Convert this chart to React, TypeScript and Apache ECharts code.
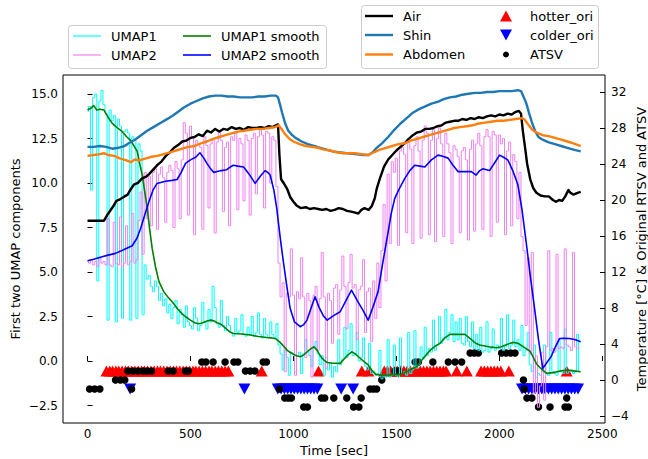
import React, { useEffect, useRef } from "react";
import * as echarts from "echarts";

// ---------------- data ----------------
// raw UMAP components, one sample every UMAP_STEP seconds starting at t = 0
const UMAP_STEP = 10;
const umap1Raw = [
  14.0, 14.3, 9.6, 14.8, 15.0, 4.5, 14.6, 15.2, 14.4, 13.9,
  2.3, 14.1, 13.5, 13.8, 2.2, 13.6, 13.2, 2.4, 12.9, 13.0,
  12.8, 2.3, 12.6, 12.4, 2.4, 12.2, 11.8, 2.6, 5.4, 4.6,
  4.8, 4.2, 3.9, 4.5, 4.2, 3.4, 3.8, 3.1, 3.5, 2.7,
  3.2, 2.4, 3.0, 3.4, 2.1, 2.9, 2.6, 1.9, 3.1, 2.2,
  2.0, 1.8, 3.0, 2.4, 1.7, 2.0, 3.3, 2.2, 1.8, 2.9,
  2.2, 4.2, 3.0, 2.1, 1.9, 3.4, 2.0, 1.7, 2.5, 2.0,
  1.6, 1.4, 2.4, 1.6, 1.7, 2.6, 1.5, 1.4, 1.9, 1.5,
  2.5, 1.4, 1.6, 2.7, 1.5, 1.3, 2.4, 1.5, 1.3, 2.2,
  1.5, 1.3, 2.1, 0.9, 0.4, -0.5, 0.6, 0.2, -0.8, 0.5,
  0.4, -0.6, 0.3, 0.5, -0.7, 0.4, 1.2, 0.6, 0.3, -0.3,
  0.7, 1.1, 0.4, -0.2, 0.3, -0.8, 0.2, -0.5, -0.1, -0.9,
  -0.3, -0.6, 1.2, -0.2, 0.1, 1.9, 0.2, 0.6, 2.1, 0.3,
  0.4, 1.6, 0.0, 0.2, 1.3, -0.3, -0.5, 1.0, -0.7, -0.6,
  -0.8, -0.7, 0.6, -1.0, -0.8, -0.9, 1.2, -0.9, -0.8, 0.9,
  -0.8, -0.9, 1.3, -0.7, -0.6, -0.8, 1.6, -0.7, -0.5, 1.7,
  -0.4, -0.2, 0.8, 0.1, 1.9, 0.3, 0.7, 0.5, 2.3, 0.6,
  0.9, 2.5, 1.0, 1.3, 2.9, 1.2, 1.6, 2.6, 1.1, 2.2,
  1.2, 2.4, 1.0, 0.9, 2.5, 1.1, 0.8, 2.2, 0.7, 1.5,
  0.6, 1.9, 0.5, 0.6, 2.2, 0.5, 0.7, 1.8, 0.6, 0.9,
  0.7, 2.4, 0.6, 0.8, 2.6, 0.7, 0.9, 2.3, 0.8, 1.2,
  0.6, 2.0, 0.3, 0.6, 1.6, -0.2, -0.6, 0.9, -0.9, -0.7,
  -0.8, -0.6, 0.9, -0.7, -0.8, 1.6, -0.6, -0.7, -0.8, 1.2,
  -0.6, -0.7, 1.8, -0.7, -0.6, -0.5, -0.7, -0.6, 1.5, -0.6,
];
const umap2Raw = [
  5.6, 5.5, 5.7, 5.4, 5.6, 5.3, 5.8, 5.5, 5.6, 5.4,
  8.0, 5.4, 5.3, 7.8, 5.5, 5.4, 8.1, 5.3, 5.5, 7.6,
  5.4, 5.6, 8.3, 5.5, 5.7, 7.9, 9.5, 6.0, 10.6, 8.0,
  10.4, 7.6, 10.6, 10.8, 7.4, 10.5, 10.9, 10.3, 7.8, 10.6,
  11.0, 10.7, 7.5, 11.2, 10.8, 8.0, 11.3, 13.4, 12.8, 8.2,
  13.2, 12.6, 7.1, 12.4, 12.2, 12.0, 7.4, 12.6, 12.1, 8.6,
  12.2, 12.5, 7.2, 12.3, 12.9, 12.4, 8.4, 12.0, 12.3, 7.6,
  12.6, 12.4, 12.8, 8.5, 12.5, 12.2, 9.0, 12.7, 12.4, 8.2,
  12.5, 12.8, 9.4, 12.6, 13.0, 12.7, 8.6, 12.9, 12.8, 10.0,
  12.6, 12.4, 9.8, 5.5, 3.6, 4.4, -0.6, 3.8, 3.6, 6.3,
  3.7, -0.8, 3.9, 3.5, 5.8, 3.6, 0.2, 3.8, 3.4, -0.9,
  3.7, 4.2, 0.6, 3.5, 6.1, 3.6, -0.4, 3.8, 3.4, 1.0,
  4.1, 4.3, 1.5, 4.0, 5.9, 4.2, 1.8, 4.4, 6.0, 4.1,
  4.3, 1.2, 4.0, 4.2, 5.7, 1.6, 3.9, 4.1, 1.1, 4.5,
  2.4, 5.5, 3.0, 6.2, 8.8, 4.5, 10.5, 6.6, 11.2, 10.6,
  11.4, 6.5, 11.8, 12.0, 11.6, 7.2, 12.3, 11.9, 6.6, 12.1,
  12.6, 11.8, 6.9, 12.4, 13.2, 12.8, 7.1, 12.4, 13.0, 6.7,
  12.5, 13.1, 12.2, 7.0, 12.8, 12.2, 11.7, 6.6, 12.1, 11.9,
  11.5, 7.2, 11.8, 12.0, 11.3, 6.8, 11.9, 12.4, 7.3, 12.2,
  12.8, 12.1, 7.4, 12.6, 13.0, 12.6, 7.0, 12.9, 12.7, 7.8,
  12.7, 12.2, 12.5, 7.1, 11.8, 12.3, 7.6, 11.6, 11.2, 8.0,
  10.6, 7.0, 6.2, 2.0, 5.8, 0.4, 6.1, -1.8, 0.3, -2.6,
  -1.4, 0.5, -2.2, 0.8, 6.2, 0.6, 0.7, 0.5, 6.0, 0.7,
  0.8, 0.7, 6.3, 0.9, 0.8, 0.6, 6.1, 0.8, 0.7, 0.8,
];

// smoothed UMAP components: [time s, value]
const umap1Smooth: [number, number][] = [
  [0, 14.1], [15, 14.2], [30, 14.35], [45, 14.1], [60, 14.15], [80, 14.1], [100, 13.7], [120, 13.35],
  [145, 13.1], [168, 12.9], [190, 12.6], [209, 12.4], [225, 12.1], [242, 11.76], [255, 11.0], [266, 10.45],
  [278, 9.5], [290, 8.58], [302, 7.4], [314, 6.33], [330, 5.3], [347, 4.46], [370, 3.9], [390, 3.6],
  [411, 3.33], [440, 2.9], [460, 2.65], [476, 2.49], [500, 2.3], [520, 2.15], [541, 2.1], [560, 2.15],
  [580, 2.25], [600, 2.3], [615, 2.25], [630, 2.15], [650, 2.05], [670, 1.85], [690, 1.65], [708, 1.55],
  [750, 1.52], [790, 1.46], [830, 1.38], [871, 1.32], [895, 1.3], [915, 1.25], [935, 1.05], [955, 0.8],
  [970, 0.6], [985, 0.48], [1000, 0.38], [1015, 0.3], [1033, 0.24], [1050, 0.35], [1070, 0.55], [1085, 0.7],
  [1100, 0.8], [1115, 0.6], [1130, 0.3], [1148, 0.05], [1164, -0.08], [1190, -0.12], [1227, -0.13],
  [1245, 0.1], [1265, 0.35], [1283, 0.52], [1300, 0.4], [1320, 0.2], [1340, 0.0], [1363, -0.22],
  [1380, -0.5], [1400, -0.75], [1430, -0.8], [1460, -0.78], [1490, -0.76], [1517, -0.75], [1550, -0.6],
  [1575, -0.45], [1600, -0.3], [1630, 0.15], [1665, 0.62], [1690, 0.85], [1712, 1.0], [1735, 1.3],
  [1760, 1.5], [1800, 1.5], [1833, 1.5], [1860, 1.25], [1885, 1.0], [1905, 0.9], [1930, 0.85],
  [1960, 0.78], [1987, 0.75], [2010, 0.8], [2040, 0.95], [2068, 1.05], [2090, 1.0], [2110, 0.85],
  [2130, 0.7], [2149, 0.55], [2165, 0.2], [2180, -0.15], [2200, -0.4], [2215, -0.55], [2230, -0.69],
  [2260, -0.65], [2280, -0.6], [2300, -0.55], [2329, -0.5], [2360, -0.55], [2395, -0.6],
];
const umap2Smooth: [number, number][] = [
  [0, 5.64], [30, 5.72], [71, 5.86], [100, 5.95], [136, 6.05], [175, 6.25], [217, 6.48], [240, 6.9],
  [258, 7.45], [278, 8.2], [298, 8.95], [318, 9.6], [338, 9.98], [360, 10.05], [379, 10.1], [410, 10.15],
  [435, 10.2], [455, 10.6], [476, 11.1], [500, 11.3], [525, 11.45], [546, 11.7], [565, 11.4], [580, 11.1],
  [595, 10.85], [612, 10.6], [630, 10.65], [650, 10.7], [676, 10.75], [693, 10.9], [708, 11.0], [730, 10.95],
  [758, 10.9], [785, 10.5], [814, 9.98], [840, 10.4], [863, 10.7], [875, 10.6], [887, 10.45], [905, 9.6],
  [919, 8.58], [935, 7.0], [951, 5.58], [968, 4.2], [984, 2.96], [1005, 2.2], [1033, 1.93], [1050, 2.05],
  [1066, 2.3], [1085, 2.95], [1105, 3.61], [1125, 3.0], [1145, 2.55], [1164, 2.3], [1195, 2.55],
  [1227, 2.77], [1255, 3.4], [1282, 3.99], [1310, 3.4], [1340, 2.8], [1363, 2.3], [1385, 3.0],
  [1411, 3.89], [1435, 5.6], [1460, 7.26], [1475, 8.3], [1492, 9.14], [1515, 9.7], [1541, 10.26],
  [1565, 10.7], [1589, 11.0], [1615, 10.95], [1638, 10.9], [1670, 11.3], [1702, 11.57], [1725, 11.5],
  [1751, 11.4], [1775, 11.0], [1800, 10.64], [1830, 10.64], [1864, 10.64], [1887, 10.45], [1905, 10.7],
  [1919, 10.8], [1952, 10.7], [1975, 11.1], [2001, 11.57], [2020, 11.45], [2041, 11.3], [2065, 10.7],
  [2090, 9.9], [2110, 8.5], [2130, 6.7], [2150, 4.8], [2171, 2.96], [2190, 1.2], [2211, -0.41],
  [2230, -0.1], [2251, 0.24], [2270, 0.75], [2293, 1.27], [2315, 1.28], [2340, 1.27], [2370, 1.2],
  [2395, 1.08],
];

// temperatures [time s, deg C]
const air: [number, number][] = [
  [0, 17.7], [40, 17.7], [80, 17.7], [95, 18.3], [110, 18.8], [125, 19.3], [140, 19.9], [160, 20.1],
  [180, 20.4], [195, 20.6], [210, 21.2], [225, 21.7], [245, 21.9], [265, 22.4], [285, 22.6], [300, 22.9],
  [320, 23.4], [340, 23.9], [360, 24.3], [380, 24.9], [400, 25.3], [420, 25.8], [440, 26.1], [460, 26.5],
  [480, 26.6], [500, 26.9], [520, 27.0], [540, 27.3], [560, 27.1], [580, 27.7], [600, 27.5], [620, 27.9],
  [640, 27.6], [660, 27.9], [680, 27.8], [700, 28.1], [720, 27.9], [740, 28.0], [760, 27.8], [780, 28.1],
  [800, 28.0], [820, 28.0], [840, 28.1], [860, 28.0], [880, 28.2], [900, 28.1], [915, 28.3], [925, 28.4],
  [932, 25.0], [940, 22.3], [955, 21.8], [970, 21.2], [985, 20.3], [1000, 19.8], [1015, 19.4],
  [1035, 19.1], [1060, 19.2], [1080, 19.0], [1100, 19.1], [1120, 19.0], [1140, 18.9], [1160, 19.0],
  [1180, 18.8], [1200, 18.9], [1220, 19.1], [1240, 19.0], [1260, 18.8], [1280, 18.7], [1300, 18.6],
  [1315, 18.5], [1330, 18.9], [1345, 19.1], [1365, 18.9], [1380, 19.3], [1395, 20.2], [1405, 21.3],
  [1420, 22.4], [1440, 23.7], [1460, 24.5], [1480, 25.0], [1500, 25.5], [1520, 25.9], [1540, 26.3],
  [1560, 26.8], [1580, 27.2], [1600, 27.5], [1620, 27.6], [1640, 27.9], [1660, 27.9], [1680, 28.0],
  [1700, 28.2], [1720, 28.3], [1740, 28.6], [1760, 28.7], [1780, 28.8], [1800, 28.8], [1820, 29.0],
  [1840, 28.9], [1860, 29.1], [1880, 29.0], [1900, 29.2], [1920, 29.1], [1940, 29.3], [1960, 29.4],
  [1980, 29.3], [2000, 29.5], [2020, 29.4], [2040, 29.6], [2060, 29.5], [2080, 29.8], [2095, 29.9],
  [2105, 29.6], [2115, 27.5], [2125, 25.8], [2135, 24.0], [2150, 22.3], [2165, 21.3], [2180, 20.8],
  [2200, 20.5], [2220, 20.4], [2240, 20.4], [2260, 20.0], [2275, 19.8], [2290, 20.0], [2305, 19.9],
  [2320, 20.4], [2335, 21.1], [2345, 20.8], [2360, 20.6], [2380, 20.8], [2395, 20.9],
];
const shin: [number, number][] = [
  [0, 25.9], [30, 25.9], [60, 26.0], [90, 25.9], [120, 25.7], [150, 25.8], [180, 26.0], [200, 26.3],
  [230, 26.7], [260, 27.2], [290, 27.7], [320, 28.1], [350, 28.5], [380, 28.9], [410, 29.3], [440, 29.8],
  [470, 30.3], [500, 30.7], [530, 31.0], [560, 31.3], [590, 31.5], [620, 31.6], [650, 31.6], [680, 31.5],
  [710, 31.5], [740, 31.4], [770, 31.4], [800, 31.4], [830, 31.5], [860, 31.5], [890, 31.6], [915, 31.6],
  [925, 31.4], [935, 30.6], [945, 29.7], [960, 28.5], [975, 27.7], [990, 27.3], [1010, 26.9],
  [1040, 26.5], [1070, 26.2], [1100, 26.0], [1130, 25.8], [1160, 25.6], [1190, 25.4], [1220, 25.3],
  [1260, 25.2], [1300, 25.1], [1340, 25.0], [1365, 25.0], [1385, 25.3], [1400, 25.7], [1430, 26.3],
  [1460, 27.0], [1490, 27.8], [1520, 28.5], [1550, 29.1], [1580, 29.7], [1610, 30.1], [1640, 30.4],
  [1670, 30.7], [1700, 30.9], [1730, 31.2], [1760, 31.4], [1790, 31.5], [1820, 31.7], [1850, 31.8],
  [1880, 31.9], [1910, 31.9], [1940, 32.0], [1970, 32.0], [2000, 32.1], [2030, 32.1], [2060, 32.1],
  [2090, 32.2], [2105, 32.1], [2115, 31.6], [2130, 30.8], [2145, 29.6], [2160, 28.5], [2175, 27.6],
  [2190, 27.0], [2210, 26.7], [2240, 26.4], [2270, 26.2], [2300, 26.0], [2330, 25.8], [2360, 25.6],
  [2395, 25.4],
];
const abdomen: [number, number][] = [
  [0, 24.9], [30, 25.0], [60, 25.1], [80, 25.2], [100, 25.0], [130, 24.9], [160, 24.6], [190, 24.4],
  [210, 24.2], [230, 24.5], [250, 24.4], [280, 24.6], [310, 24.8], [340, 24.9], [370, 25.1], [400, 25.3],
  [430, 25.5], [460, 25.7], [490, 25.9], [520, 26.0], [550, 26.3], [580, 26.5], [610, 26.8], [640, 27.0],
  [670, 27.2], [700, 27.4], [730, 27.6], [760, 27.7], [790, 27.8], [820, 27.9], [850, 27.9], [880, 28.0],
  [910, 28.1], [928, 28.3], [945, 27.8], [960, 27.3], [980, 26.8], [1000, 26.5], [1030, 26.2],
  [1060, 26.0], [1090, 25.9], [1120, 25.8], [1150, 25.6], [1180, 25.5], [1210, 25.3], [1240, 25.2],
  [1270, 25.2], [1300, 25.2], [1330, 25.1], [1365, 25.0], [1390, 25.3], [1420, 25.6], [1450, 25.8],
  [1480, 26.0], [1510, 26.2], [1540, 26.3], [1570, 26.6], [1600, 26.8], [1630, 27.0], [1660, 27.2],
  [1690, 27.4], [1720, 27.6], [1750, 27.8], [1780, 28.0], [1810, 28.1], [1840, 28.2], [1870, 28.3],
  [1900, 28.5], [1930, 28.6], [1960, 28.7], [1990, 28.8], [2020, 28.8], [2050, 28.9], [2080, 29.0],
  [2110, 29.1], [2120, 29.0], [2140, 28.4], [2160, 27.8], [2180, 27.5], [2210, 27.2], [2240, 27.1],
  [2270, 26.9], [2300, 26.7], [2330, 26.5], [2360, 26.3], [2395, 26.0],
];

// original RTSV markers (times in s) and ATSV votes [time s, vote]
const HOTTER_LEVEL = 1;
const COLDER_LEVEL = -1;
const hotterTimes = [
  92, 108, 122, 138, 152, 168, 184, 198, 214, 230, 246, 262, 276, 292, 308, 324, 340, 354, 370, 386,
  402, 418, 432, 448, 464, 480, 496, 512, 526, 542, 558, 574, 590, 604, 620, 636, 652, 668, 684,
  846, 1122, 1332, 1364,
  1441, 1456, 1472, 1488, 1504, 1520, 1536, 1552, 1568, 1584, 1600, 1616, 1632, 1648, 1664, 1680,
  1696, 1712, 1728, 1741, 1793, 1842,
  1911, 1927, 1943, 1959, 1975, 1991, 2007, 2046, 2327,
];
const colderTimes = [
  207, 762,
  924, 940, 956, 972, 988, 1004, 1020, 1036, 1052, 1068, 1084, 1100, 1116,
  1232, 1290,
  2110, 2126, 2142, 2158, 2174, 2190, 2206, 2222, 2238, 2254, 2270, 2286, 2302, 2318, 2334, 2350,
  2366, 2382,
];
const atsv: [number, number][] = [
  [10, -1], [35, -1], [60, -1], [136, 0], [160, 0], [181, 0], [196, 1], [214, -1], [220, 1], [245, 1],
  [270, 1], [290, 1], [311, 1], [392, 1], [416, 1], [475, 1], [490, 1], [555, 2], [575, 2], [610, 2],
  [668, 2], [711, 2], [730, 2], [767, 1], [790, 1], [813, 1], [853, 2], [869, 2], [932, -1], [958, -2],
  [975, -2], [990, -2], [1050, -3], [1068, -3], [1136, -2], [1152, -2], [1196, -2], [1259, -2],
  [1292, -3], [1318, -3], [1329, -2], [1372, -1], [1388, -1], [1404, -1], [1429, 0], [1494, 1],
  [1510, 1], [1591, 2], [1607, 2], [1677, 2], [1752, 2], [1785, 2], [1817, 2], [1858, 3], [1878, 3],
  [1898, 3], [2011, 3], [2033, 3], [2055, 3], [2076, 3], [2117, 0], [2121, -1], [2134, -2], [2158, -2],
  [2190, -3], [2246, -3], [2319, -3], [2327, -2], [2335, -3],
];

// axes
const xTicks = [0, 500, 1000, 1500, 2000, 2500];
const leftTicks = [-2.5, 0, 2.5, 5, 7.5, 10, 12.5, 15];
const rightTicks = [-4, 0, 4, 8, 12, 16, 20, 24, 28, 32];

// ---------------- chart ----------------
const FONT = '"DejaVu Sans", "Liberation Sans", sans-serif';
const minus = (s: string) => s.replace("-", "\u2212");

function lineSeries(name: string, data: number[][], color: string, width: number, yAxisIndex: number, step?: string) {
  return {
    type: "line",
    name,
    data,
    yAxisIndex,
    step: step || false,
    showSymbol: false,
    symbol: "none",
    silent: true,
    lineStyle: { color, width, join: "round" },
    itemStyle: { color },
    emphasis: { disabled: true },
  };
}

function legendLine(x: number, y: number, color: string, width: number) {
  return { type: "line", shape: { x1: x, y1: y, x2: x + 28, y2: y }, style: { stroke: color, lineWidth: width } };
}
function legendText(x: number, y: number, text: string) {
  return {
    type: "text",
    style: {
      x, y, text, fill: "#000", font: `13px ${FONT}`,
      align: "left", verticalAlign: "middle", textAlign: "left", textVerticalAlign: "middle",
    },
  };
}

export default function App() {
  const ref = useRef<HTMLDivElement>(null);
  useEffect(() => {
    if (!ref.current) return;
    const chart = echarts.init(ref.current, undefined, { renderer: "svg" });
    const u1 = umap1Raw.map((v, i) => [i * UMAP_STEP, v]);
    const u2 = umap2Raw.map((v, i) => [i * UMAP_STEP, v]);
    const tickStyle = { inside: true, length: 5, lineStyle: { color: "#000", width: 1 } };
    const labelStyle = { color: "#000", fontSize: 12, fontFamily: FONT };
    const nameStyle = { color: "#000", fontSize: 13, fontFamily: FONT };
    chart.setOption({
      animation: false,
      backgroundColor: "#fff",
      grid: {
        left: 63, top: 75, width: 542, height: 348, containLabel: false, outerBoundsMode: "none",
        show: true, borderColor: "#000", borderWidth: 1, backgroundColor: "transparent",
      },
      xAxis: {
        type: "value", min: -119, max: 2513,
        name: "Time [sec]", nameLocation: "middle", nameGap: 21, nameMoveOverlap: false, nameTextStyle: nameStyle,
        axisLine: { show: false }, splitLine: { show: false },
        axisTick: { ...tickStyle, customValues: xTicks },
        axisLabel: { ...labelStyle, margin: 5, customValues: xTicks, formatter: (v: number) => minus(String(v)) },
      },
      yAxis: [
        {
          type: "value", min: -3.48, max: 16.07, position: "left",
          name: "First two UMAP components", nameLocation: "middle", nameGap: 41, nameRotate: 90,
          nameMoveOverlap: false, nameTextStyle: nameStyle,
          axisLine: { show: false }, splitLine: { show: false },
          axisTick: { ...tickStyle, customValues: leftTicks },
          axisLabel: { ...labelStyle, margin: 5, customValues: leftTicks, formatter: (v: number) => minus(v.toFixed(1)) },
        },
        {
          type: "value", min: -4.78, max: 33.89, position: "right",
          name: "Temperature [\u00b0C] & Original RTSV and ATSV", nameLocation: "middle", nameGap: 30, nameRotate: 90,
          nameMoveOverlap: false, nameTextStyle: nameStyle,
          axisLine: { show: false }, splitLine: { show: false },
          axisTick: { ...tickStyle, customValues: rightTicks },
          axisLabel: { ...labelStyle, margin: 6, customValues: rightTicks, formatter: (v: number) => minus(String(v)) },
        },
      ],
      series: [
        lineSeries("UMAP1", u1, "#00ffff", 1, 0, "middle"),
        lineSeries("UMAP2", u2, "#ee82ee", 1, 0, "middle"),
        lineSeries("UMAP1 smooth", umap1Smooth, "#008000", 1.6, 0),
        lineSeries("UMAP2 smooth", umap2Smooth, "#0000ff", 1.6, 0),
        lineSeries("Air", air, "#000000", 2.4, 1),
        lineSeries("Shin", shin, "#1f77b4", 2.4, 1),
        lineSeries("Abdomen", abdomen, "#ff7f0e", 2.4, 1),
        {
          type: "scatter", name: "hotter_ori", yAxisIndex: 1, silent: true,
          data: hotterTimes.map((t) => [t, HOTTER_LEVEL]),
          symbol: "triangle", symbolSize: [12, 11], itemStyle: { color: "#ff0000", opacity: 1 },
        },
        {
          type: "scatter", name: "colder_ori", yAxisIndex: 1, silent: true,
          data: colderTimes.map((t) => [t, COLDER_LEVEL]),
          symbol: "triangle", symbolRotate: 180, symbolSize: [12, 11], itemStyle: { color: "#0000ff", opacity: 1 },
        },
        {
          type: "scatter", name: "ATSV", yAxisIndex: 1, silent: true,
          data: atsv, symbol: "circle", symbolSize: 7.5, itemStyle: { color: "#000000", opacity: 1 },
        },
      ],
      graphic: [
        { type: "rect", shape: { x: 68.5, y: 25.5, width: 258, height: 43, r: 3 }, style: { fill: "rgba(255,255,255,0.8)", stroke: "#cccccc", lineWidth: 1 } },
        legendLine(73, 36, "#00ffff", 1.2), legendText(111, 36, "UMAP1"),
        legendLine(73, 55, "#ee82ee", 1.2), legendText(111, 55, "UMAP2"),
        legendLine(183, 36, "#008000", 1.6), legendText(221, 36, "UMAP1 smooth"),
        legendLine(183, 55, "#0000ff", 1.6), legendText(221, 55, "UMAP2 smooth"),
        { type: "rect", shape: { x: 361.5, y: 5.5, width: 237, height: 63, r: 3 }, style: { fill: "rgba(255,255,255,0.8)", stroke: "#cccccc", lineWidth: 1 } },
        legendLine(365, 16, "#000000", 2.4), legendText(403, 16, "Air"),
        legendLine(365, 35, "#1f77b4", 2.4), legendText(403, 35, "Shin"),
        legendLine(365, 54.5, "#ff7f0e", 2.4), legendText(403, 54.5, "Abdomen"),
        { type: "polygon", shape: { points: [[500, 21.5], [512, 21.5], [506, 10.5]] }, style: { fill: "#ff0000" } },
        legendText(530, 16, "hotter_ori"),
        { type: "polygon", shape: { points: [[500, 29.5], [512, 29.5], [506, 40.5]] }, style: { fill: "#0000ff" } },
        legendText(530, 35, "colder_ori"),
        { type: "circle", shape: { cx: 506, cy: 54.5, r: 3 }, style: { fill: "#000" } },
        legendText(530, 54.5, "ATSV"),
      ],
    });
    return () => chart.dispose();
  }, []);
  return (
    <div
      ref={ref}
      style={{ position: "fixed", left: 0, top: 0, width: 648, height: 459, background: "#fff" }}
    />
  );
}
